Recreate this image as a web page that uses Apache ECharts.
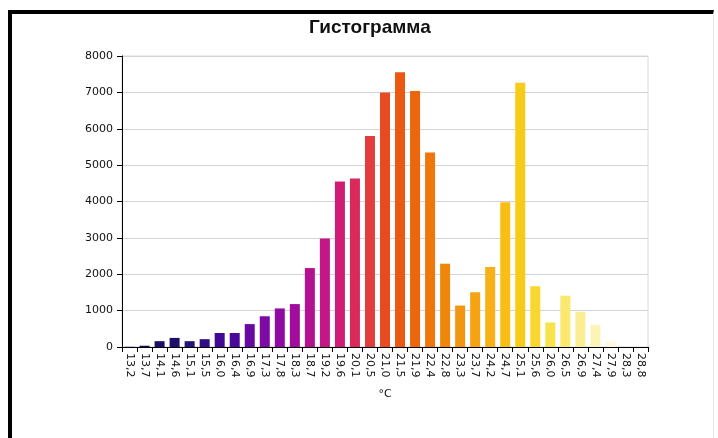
<!DOCTYPE html>
<html>
<head>
<meta charset="utf-8">
<script src="https://cdn.jsdelivr.net/npm/echarts@6/dist/echarts.min.js"></script>
<style>
html,body{margin:0;padding:0;background:#fff;}
#frame{position:absolute;left:8px;top:10px;width:706px;height:428px;border-left:4px solid #000;border-top:4px solid #000;border-right:1px solid #e6e6e6;box-sizing:border-box;}
#chart{position:absolute;left:0;top:0;width:718px;height:438px;}
</style>
</head>
<body>
<div id="frame"></div>
<div id="chart"></div>
<script>
const categories = ["13,2","13,7","14,1","14,6","15,1","15,5","16,0","16,4","16,9","17,3","17,8","18,3","18,7","19,2","19,6","20,1","20,5","21,0","21,5","21,9","22,4","22,8","23,3","23,7","24,2","24,7","25,1","25,6","26,0","26,5","26,9","27,4","27,9","28,3","28,8"];
const counts = [5,35,160,250,160,215,385,385,630,845,1060,1180,2170,2980,4550,4630,5800,7000,7550,7040,5350,2290,1140,1505,2200,3980,7265,1670,675,1410,970,610,150,0,0];
const yTicks = [0,1000,2000,3000,4000,5000,6000,7000,8000];
const barColors = ["#0a0a45","#120c55","#1a0f62","#1e0f68","#26107a","#300e86","#400b92","#4c0a9a","#680aa2","#7c0aa3","#8f0aa2","#a00c9c","#b41190","#c41685","#cf1c76","#da2a5c","#e33c3e","#e84b22","#ea5812","#ec660c","#ef760a","#f0860b","#f29510","#f5a313","#f7b015","#f9bd16","#f8cb18","#f8d730","#f8e24a","#fae86f","#fbee92","#fcf4b6","#fdf9dc","#fffef3","#ffffff"];

const chart = echarts.init(document.getElementById('chart'), null, {renderer:'canvas'});
chart.setOption({
  animation:false,
  title:{
    text:'Гистограмма', left:304, top:13,
    textStyle:{fontFamily:'Liberation Sans, Arial', fontWeight:'bold', fontSize:19, color:'#111'}
  },
  grid:{left:122, right:70, top:56, bottom:91, show:true, borderColor:'#d8d8d8', borderWidth:1, backgroundColor:'transparent'},
  xAxis:{
    type:'category', data:categories,
    name:'°C', nameLocation:'middle', nameGap:42,
    nameTextStyle:{fontFamily:'DejaVu Sans', fontSize:11, color:'#111'},
    axisLine:{lineStyle:{color:'#000', width:1}},
    axisTick:{show:true, alignWithLabel:false, length:5, lineStyle:{color:'#000'}},
    axisLabel:{rotate:-90, interval:0, fontFamily:'DejaVu Sans', fontSize:11, color:'#111', margin:6},
    splitLine:{show:false}
  },
  yAxis:{
    type:'value', min:yTicks[0], max:yTicks[yTicks.length-1], interval:1000,
    axisLine:{show:true, lineStyle:{color:'#000', width:1}},
    axisTick:{show:true, length:5, lineStyle:{color:'#000'}},
    axisLabel:{fontFamily:'DejaVu Sans', fontSize:11, color:'#111', margin:9, formatter:function(v){return String(v);}},
    splitLine:{show:true, lineStyle:{color:'#d4d4d4', width:1}}
  },
  series:[{
    type:'bar', data:counts, barWidth:10,
    itemStyle:{color:function(p){return barColors[p.dataIndex];}}
  }]
});
</script>
</body>
</html>
